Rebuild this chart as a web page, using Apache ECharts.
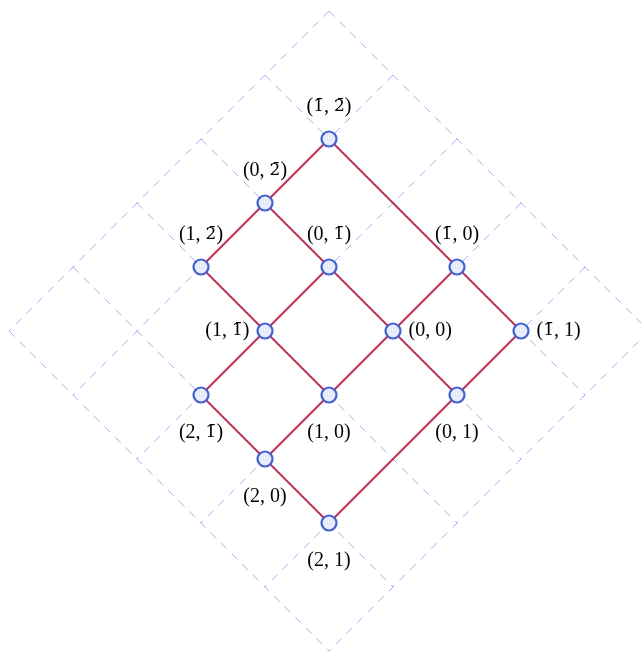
<!DOCTYPE html>
<html>
<head>
<meta charset="utf-8">
<script src="https://cdn.jsdelivr.net/npm/echarts@6/dist/echarts.min.js"></script>
<style>html,body{margin:0;padding:0;background:#fff}#c{width:641px;height:651px}</style>
</head>
<body>
<div id="c"></div>
<script>
// Lattice nodes in (a, b) coordinates; negative values are written with an overbar
const nodeA = [-1, 0, 1, 0, -1, 1, 0, -1, 2, 1, 0, 2, 2];
const nodeB = [-2, -2, -2, -1, 0, -1, 0, 1, -1, 0, 1, 0, 1];
const labelSide = ['top','top','top','top','top','left','right','right','bottom','bottom','bottom','bottom','bottom'];
// Edges (indices into the node arrays)
const edgeFrom = [0, 1, 1, 2, 3, 3, 0, 4, 4, 5, 5, 6, 6, 7, 8, 9, 11, 10];
const edgeTo   = [1, 2, 3, 5, 5, 6, 4, 6, 7, 8, 9, 9, 10, 10, 11, 11, 12, 12];
// Background dashed lattice lines
const gridA = [-2, -1, 0, 1, 2, 3];
const gridB = [-3, -2, -1, 0, 1, 2];

// rotate lattice 45°: horizontal u = b - a, vertical v = a + b
const toUV = (a, b) => [b - a, a + b];
const fmt = n => n < 0 ? '{n|' + String(-n) + '\u0304}' : String(n);

const aMin = Math.min(...gridA), aMax = Math.max(...gridA);
const bMin = Math.min(...gridB), bMax = Math.max(...gridB);
const gridLines = [];
gridA.forEach(a => gridLines.push({coords: [toUV(a, bMin), toUV(a, bMax)]}));
gridB.forEach(b => gridLines.push({coords: [toUV(aMin, b), toUV(aMax, b)]}));

const edges = edgeFrom.map((f, i) => ({coords: [toUV(nodeA[f], nodeB[f]), toUV(nodeA[edgeTo[i]], nodeB[edgeTo[i]])]}));

const distances = {top: 14, bottom: 19, left: 7, right: 7};
const nodes = nodeA.map((a, i) => ({
  value: toUV(a, nodeB[i]),
  name: '(' + fmt(a) + ', ' + fmt(nodeB[i]) + ')',
  label: {position: labelSide[i], distance: distances[labelSide[i]]}
}));

const chart = echarts.init(document.getElementById('c'), null, {renderer: 'canvas'});
chart.setOption({
  animation: false,
  backgroundColor: '#ffffff',
  grid: {left: 9, top: 11, width: 632, height: 640},
  xAxis: {type: 'value', min: -6, max: 3.875, show: false},
  yAxis: {type: 'value', min: -5, max: 5, inverse: true, show: false},
  series: [
    {
      type: 'lines', coordinateSystem: 'cartesian2d', z: 1, silent: true,
      lineStyle: {color: '#a3b1f5', width: 1, type: [8, 7], opacity: 1},
      data: gridLines
    },
    {
      type: 'lines', coordinateSystem: 'cartesian2d', z: 2, silent: true,
      lineStyle: {color: '#bd3350', width: 2, type: 'solid', opacity: 1},
      data: edges
    },
    {
      type: 'scatter', z: 3, symbol: 'circle', symbolSize: 15,
      itemStyle: {color: '#e9ecf9', borderColor: '#4260d6', borderWidth: 2.2, opacity: 1},
      label: {show: true, formatter: p => p.name, color: '#000',
              fontFamily: 'Liberation Serif', fontSize: 20,
              rich: {n: {fontFamily: 'DejaVu Serif', fontSize: 17, color: '#000'}}},
      data: nodes
    }
  ]
});
</script>
</body>
</html>
